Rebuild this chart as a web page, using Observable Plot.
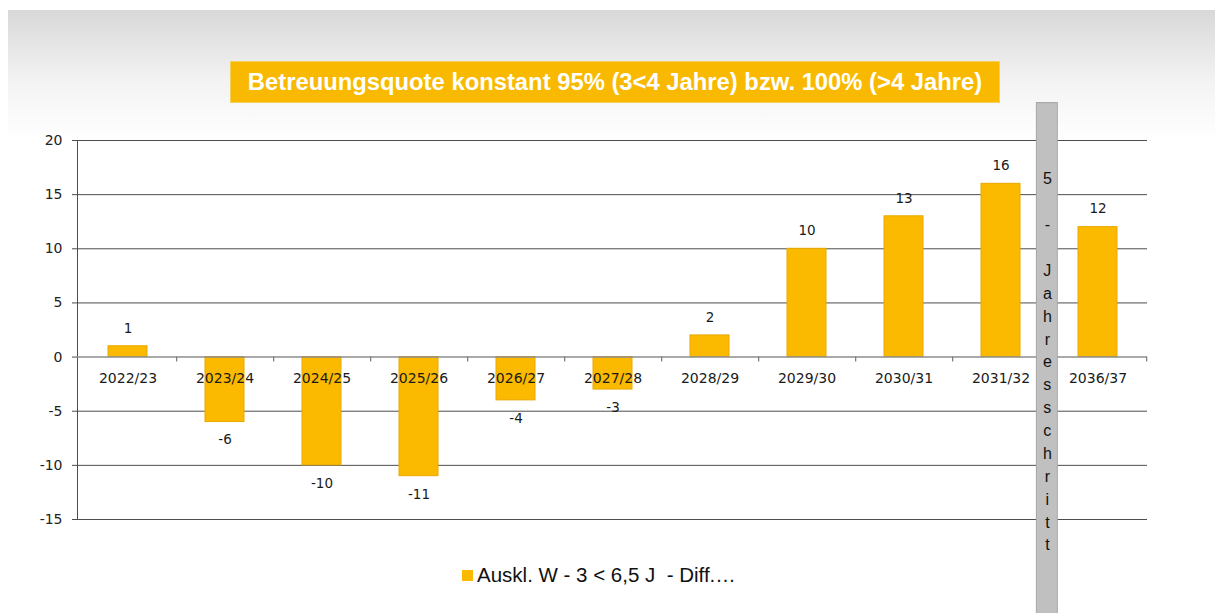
<!DOCTYPE html>
<html><head><meta charset="utf-8">
<script src="https://cdn.jsdelivr.net/npm/d3@7"></script>
<script src="https://cdn.jsdelivr.net/npm/@observablehq/plot@0.6"></script>
<style>
html,body{margin:0;padding:0;background:#fff;}
#wrap{position:relative;width:1215px;height:613px;overflow:hidden;background:#fff;}
#bg{position:absolute;left:8px;top:10px;right:0;height:130px;background:linear-gradient(#d8d8d8,#f3f3f3 55%,#ffffff);}
#title{position:absolute;left:230px;top:61px;width:768px;height:40px;background:#f9b900;border:1px solid #f4cf5a;color:#fff;font:bold 23.8px "Liberation Sans",Arial,sans-serif;line-height:40px;text-align:center;white-space:nowrap;}
#chart{position:absolute;left:0;top:0;}
#legend{position:absolute;left:462px;top:563px;font:20.5px "Liberation Sans",Arial,sans-serif;color:#111;white-space:pre;display:flex;align-items:center;}
#legend .sw{width:11px;height:11px;background:#fbb900;margin-right:4px;}
</style></head>
<body>
<div id="wrap">
  <div id="bg"></div>
  <div id="title"></div>
  <div id="chart"></div>
  <div id="legend"><span class="sw"></span><span id="legtxt"></span></div>
</div>
<script>
const titleText = "Betreuungsquote konstant 95% (3<4 Jahre) bzw. 100% (>4 Jahre)";
const categories = ["2022/23","2023/24","2024/25","2025/26","2026/27","2027/28","2028/29","2029/30","2030/31","2031/32","2036/37"];
const values = [1,-6,-10,-11,-4,-3,2,10,13,16,12];
const yTicks = [-15,-10,-5,0,5,10,15,20];
const stepLabel = "5 - Jahresschritt";
const legendLabel = "Auskl. W - 3 < 6,5 J  - Diff.…";

document.getElementById("title").textContent = titleText;
document.getElementById("legtxt").textContent = legendLabel;

const data = categories.map((c,i)=>({cat:c, v:values[i]}));
const W = 1215, H = 613, mL = 77, mR = 68, mT = 140, mB = 94;
const step = (W - mL - mR) / categories.length;
const font = "DejaVu Sans, sans-serif";

const chart = Plot.plot({
  width: W, height: H,
  marginLeft: mL, marginRight: mR, marginTop: mT, marginBottom: mB,
  style: {background: "transparent", fontFamily: font, fontSize: "14px", color: "#222", overflow: "visible"},
  x: {domain: categories, paddingInner: 0.6, paddingOuter: 0.3, axis: null},
  y: {domain: [-15, 20], axis: null},
  marks: [
    Plot.ruleY(yTicks.filter(d=>d!==0), {stroke: "#4d4d4d", strokeWidth: 1}),
    Plot.frame({anchor: "left", stroke: "#4d4d4d"}),
    Plot.axisY({ticks: yTicks, tickFormat: d=>String(d), tickSize: 5, tickPadding: 10, fontSize: 14, fontFamily: font, stroke: "#4d4d4d", fill: "#222", label: null}),
    Plot.barY(data, {x: "cat", y: "v", fill: "#fbb900", stroke: "#e9a900", strokeWidth: 1}),
    Plot.ruleY([0], {stroke: "#8c8c8c", strokeWidth: 1.5}),
    Plot.ruleX(categories, {x: d=>d, y1: 0, y2: -0.45, dx: step/2, stroke: "#7f7f7f", strokeWidth: 1.3}),
    Plot.text(categories, {x: d=>d, y: ()=>0, dy: 21, text: d=>d, fontSize: 14, fontFamily: font, fill: "#1a1a1a"}),
    Plot.text(data.filter(d=>d.v>=0), {x: "cat", y: "v", text: d=>String(d.v), dy: -18, fontSize: 13.5, fontFamily: font, fill: "#1a1a1a"}),
    Plot.text(data.filter(d=>d.v<0), {x: "cat", y: "v", text: d=>String(d.v), dy: 18, fontSize: 13.5, fontFamily: font, fill: "#1a1a1a"}),
    Plot.ruleX(["2036/37"], {x: d=>d, y1: 23.5, y2: -24, dx: -(step/2)-2.5, stroke: "#a9a9a9", strokeWidth: 22, clip: false}),
    Plot.ruleX(["2036/37"], {x: d=>d, y1: 23.4, y2: -24, dx: -(step/2)-2.5, stroke: "#c0c0c0", strokeWidth: 20, clip: false}),
    Plot.text([stepLabel], {x: ()=>"2036/37", y: ()=>17.45, dx: -(step/2)-2, text: d=>d.split("").join("\n"), lineAnchor: "top", lineHeight: 1.43, fontSize: 16, fontFamily: "Liberation Sans, Arial, sans-serif", fill: "#111"})
  ]
});
document.getElementById("chart").appendChild(chart);
</script>
</body></html>
